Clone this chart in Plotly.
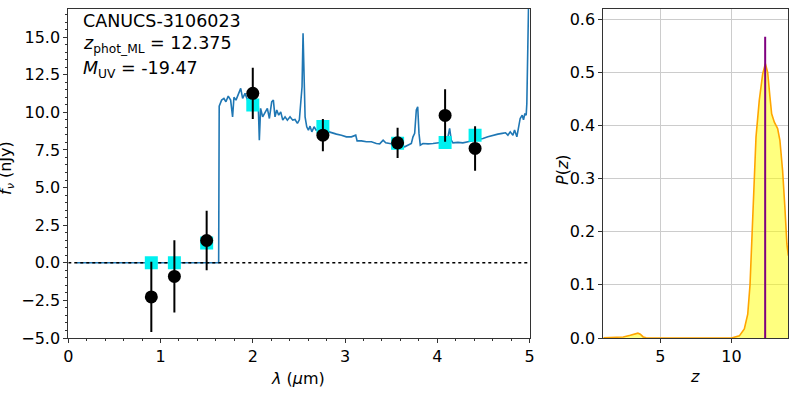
import plotly.graph_objects as go

# --- photometry ---
phot_wave = [0.90, 1.15, 1.50, 2.00, 2.76, 3.57, 4.085, 4.41]
phot_flux = [-2.27, -0.91, 1.48, 11.26, 8.48, 7.97, 9.79, 7.60]
phot_err = [2.33, 2.40, 1.97, 1.70, 1.07, 1.00, 1.75, 1.48]
model_flux = [0.0, 0.0, 1.32, 10.48, 9.05, 7.95, 8.0, 8.48]

# --- best-fit spectrum ---
spec_wave = [0.09, 0.5, 1.0, 1.5, 1.63, 1.636, 1.662, 1.687, 1.709, 1.734, 1.76, 1.781, 1.796,
             1.818, 1.843, 1.869, 1.89, 1.916, 1.941, 1.963, 1.988, 2.013, 2.042, 2.06, 2.071,
             2.085, 2.107, 2.133, 2.158, 2.18, 2.205, 2.223, 2.241, 2.26, 2.281, 2.303, 2.325,
             2.35, 2.375, 2.404, 2.433, 2.458, 2.484, 2.505, 2.52, 2.534, 2.545, 2.556, 2.567,
             2.585, 2.603, 2.621, 2.64, 2.665, 2.686, 2.711, 2.744, 2.8, 2.853, 2.907, 2.961,
             3.015, 3.069, 3.116, 3.131, 3.178, 3.232, 3.286, 3.34, 3.376, 3.413, 3.441, 3.485,
             3.539, 3.593, 3.647, 3.683, 3.719, 3.737, 3.755, 3.773, 3.788, 3.802, 3.816, 3.845,
             3.9, 3.954, 4.008, 4.062, 4.098, 4.116, 4.134, 4.152, 4.17, 4.224, 4.278, 4.333,
             4.387, 4.441, 4.495, 4.549, 4.603, 4.657, 4.704, 4.74, 4.766, 4.791, 4.82, 4.838,
             4.863, 4.885, 4.899, 4.921, 4.935, 4.95, 4.964, 4.971, 4.982, 4.995]
spec_flux = [0.0, 0.0, 0.0, 0.0, 0.0, 10.41, 10.81, 10.92, 10.70, 11.08, 10.81, 9.70, 11.0,
             10.81, 11.14, 11.59, 10.92, 11.26, 10.85, 11.0, 10.7, 10.59, 10.7, 10.37, 8.15,
             10.26, 9.70, 10.03, 10.26, 9.59, 10.7, 10.81, 9.70, 10.15, 9.81, 10.03, 9.48,
             9.70, 9.48, 9.70, 9.48, 9.52, 9.26, 9.5, 10.8, 11.7, 15.25, 11.7, 9.7,
             9.04, 8.82, 9.08, 8.70, 9.04, 8.82, 8.86, 8.86, 8.75, 8.64, 8.55, 8.48,
             8.37, 8.37, 8.48, 8.1, 8.1, 8.04, 8.04, 7.93, 7.9, 8.15, 7.97, 7.93,
             7.9, 7.82, 7.71, 7.82, 7.93, 8.37, 8.6, 10.15, 10.37, 8.6, 7.82, 7.93,
             7.9, 7.93, 7.97, 7.97, 8.04, 8.37, 8.93, 8.15, 7.97, 8.0, 7.97, 8.04,
             8.1, 8.15, 8.26, 8.37, 8.48, 8.55, 8.6, 8.64, 8.48, 8.7, 8.48, 8.82,
             8.37, 9.04, 9.59, 9.81, 9.5, 9.92, 9.81, 10.59, 16.8, 19.0]

# --- P(z) ---
pz_z = [1.0, 2.0, 2.4, 2.9, 3.2, 3.43, 3.6, 3.8, 4.0, 4.5, 10.0, 10.56, 10.91, 11.15, 11.31,
        11.45, 11.57, 11.73, 11.96, 12.2, 12.39, 12.55, 12.71, 12.83, 13.02, 13.25, 13.41,
        13.6, 13.76, 13.9, 14.0]
pz_p = [0.0005, 0.001, 0.002, 0.005, 0.008, 0.009, 0.007, 0.002, 0.0003, 0.0, 0.0, 0.004,
        0.017, 0.045, 0.10, 0.196, 0.297, 0.378, 0.447, 0.497, 0.516, 0.50, 0.454, 0.422,
        0.406, 0.394, 0.372, 0.315, 0.246, 0.177, 0.155]
z_ml = 12.375
z_ml_top = 0.567

W, H = 797, 399
FONT = "DejaVu Sans"
FRAME = "#333333"

fig = go.Figure()

# left panel
fig.add_trace(go.Scatter(x=spec_wave, y=spec_flux, mode="lines",
                         line=dict(color="#1f77b4", width=1.6), showlegend=False,
                         xaxis="x", yaxis="y"))
fig.add_trace(go.Scatter(x=[0, 5], y=[0, 0], mode="lines",
                         line=dict(color="black", width=1.5, dash="dot"), showlegend=False,
                         xaxis="x", yaxis="y"))
fig.add_trace(go.Scatter(x=phot_wave, y=model_flux, mode="markers",
                         marker=dict(symbol="square", size=13, color="#00f0f0"),
                         showlegend=False, xaxis="x", yaxis="y"))
fig.add_trace(go.Scatter(x=phot_wave, y=phot_flux, mode="markers",
                         marker=dict(symbol="circle", size=13, color="black"),
                         error_y=dict(type="data", array=phot_err, color="black",
                                      thickness=2, width=0),
                         showlegend=False, xaxis="x", yaxis="y"))

# right panel
fig.add_trace(go.Scatter(x=pz_z, y=pz_p, mode="lines", fill="tozeroy",
                         fillcolor="rgba(255,255,0,0.5)",
                         line=dict(color="#FFA500", width=1.6), showlegend=False,
                         xaxis="x2", yaxis="y2"))
fig.add_trace(go.Scatter(x=[z_ml, z_ml], y=[0, z_ml_top], mode="lines",
                         line=dict(color="#800080", width=2), showlegend=False,
                         xaxis="x2", yaxis="y2"))

x0, x1 = 68.3 / W, 529.5 / W
x2, x3 = 603.3 / W, 788.3 / W
y0, y1 = 1 - 338 / H, 1 - 8.5 / H

axis_common = dict(showline=True, mirror=True, linecolor=FRAME, linewidth=1,
                   ticks="outside", ticklen=4, tickcolor=FRAME, zeroline=False,
                   automargin=False,
                   tickfont=dict(family=FONT, size=16, color="black"))

fig.update_layout(
    width=W, height=H,
    margin=dict(l=0, r=0, t=0, b=0),
    paper_bgcolor="white", plot_bgcolor="white",
    font=dict(family=FONT, size=16, color="black"),
    xaxis=dict(domain=[x0, x1], range=[0, 5], dtick=1, showgrid=False,
               minor=dict(ticks="outside", dtick=0.2, ticklen=2, tickcolor=FRAME),
               anchor="y", **axis_common),
    yaxis=dict(domain=[y0, y1], range=[-5, 16.9], tick0=-5, dtick=2.5, tickformat=".1f",
               showgrid=False,
               minor=dict(ticks="outside", dtick=0.5, ticklen=2, tickcolor=FRAME),
               anchor="x", **axis_common),
    xaxis2=dict(domain=[x2, x3], range=[1, 14], tickvals=[5, 10], showgrid=True,
                gridcolor="#cccccc", gridwidth=1, anchor="y2", **axis_common),
    yaxis2=dict(domain=[y0, y1], range=[0, 0.62], dtick=0.1, tickformat=".1f",
                showgrid=True, gridcolor="#cccccc", gridwidth=1, anchor="x2",
                **axis_common),
)

ann = [
    dict(text="CANUCS-3106023", x=81 / W, y=1 - 33 / H, xanchor="left", yanchor="bottom",
         font=dict(size=17.5)),
    dict(text="<i>z</i><sub>phot_ML</sub> = 12.375", x=81 / W, y=1 - 58 / H,
         xanchor="left", yanchor="bottom", font=dict(size=17.5)),
    dict(text="<i>M</i><sub>UV</sub> = -19.47", x=81 / W, y=1 - 83 / H,
         xanchor="left", yanchor="bottom", font=dict(size=17.5)),
    dict(text="<i>λ</i> (<i>μ</i>m)", x=298 / W, y=1 - 378 / H, xanchor="center",
         yanchor="middle", font=dict(size=16)),
    dict(text="<i>z</i>", x=695 / W, y=1 - 376 / H, xanchor="center", yanchor="middle",
         font=dict(size=16)),
    dict(text="<i>P</i>(<i>z</i>)", x=562 / W, y=1 - 170 / H, xanchor="center",
         yanchor="middle", textangle=-90, font=dict(size=16)),
    dict(text="<i>f</i><sub><i>ν</i></sub> (nJy)", x=6 / W, y=1 - 168 / H,
         xanchor="center", yanchor="middle", textangle=-90, font=dict(size=16)),
]
for a in ann:
    a.update(xref="paper", yref="paper", showarrow=False)
    fig.add_annotation(**a)

fig.write_html("out.html", config={"displayModeBar": False},
               post_script="document.body.style.margin='0';")
